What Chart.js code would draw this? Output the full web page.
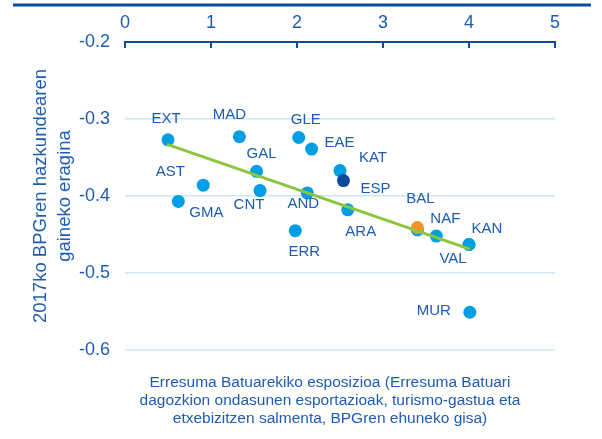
<!DOCTYPE html>
<html><head><meta charset="utf-8">
<script src="https://cdn.jsdelivr.net/npm/chart.js@4/dist/chart.umd.min.js"></script>
<style>html,body{margin:0;padding:0;background:#fff}</style>
</head><body>
<canvas id="c" width="602" height="439"></canvas>
<script>
// ---- data ----
const regionCodes    = ['EXT','MAD','GLE','EAE','GAL','KAT','AST','CNT','AND','GMA','ARA','ERR','BAL','NAF','KAN','VAL','MUR'];
const regionExposure = [0.50, 1.33, 2.02, 2.17, 1.53, 2.50, 0.91, 1.57, 2.12, 0.62, 2.59, 1.98, 3.40, 3.62, 4.00, 4.00, 4.01];
const regionImpact   = [-0.327,-0.323,-0.324,-0.339,-0.368,-0.367,-0.386,-0.393,-0.396,-0.407,-0.418,-0.445,-0.444,-0.452,-0.463,-0.463,-0.551];
const spainCodes     = ['ESP'];
const spainExposure  = [2.54];
const spainImpact    = [-0.380];
const highlightExposure = [3.40];
const highlightImpact   = [-0.441];
const trendExposure  = [0.49, 4.01];
const trendImpact    = [-0.333, -0.469];
const xTickValues = [0, 1, 2, 3, 4, 5];
const yTickValues = [-0.2, -0.3, -0.4, -0.5, -0.6];
const yTitleLines = ['2017ko BPGren hazkundearen', 'gaineko eragina'];
const xTitleLines = ['Erresuma Batuarekiko esposizioa (Erresuma Batuari',
                     'dagozkion ondasunen esportazioak, turismo-gastua eta',
                     'etxebizitzen salmenta, BPGren ehuneko gisa)'];

// ---- styles ----
const TEXT = '#1E5CB3', AXIS = '#0D4DA1', GRID = '#CBE7F8';
const LIGHT = '#009FE3', DARK = '#0B4A9C', ORANGE = '#F39325', GREEN = '#8CC63F';
const FONT = "'Liberation Sans', Arial, sans-serif";
const labelOffsets = {
  EXT:[-2,-21], MAD:[-10,-22], GLE:[7,-18], EAE:[28,-6], GAL:[5,-18], KAT:[33,-13],
  ESP:[32,8], AST:[-33,-13], CNT:[-11,14], AND:[-4,11], GMA:[28,11], ARA:[13,22],
  ERR:[9,21], BAL:[3,-31], NAF:[9,-17], KAN:[18,-16], VAL:[-16,14], MUR:[-36,-1]
};

const toPts = (xs, ys) => xs.map((x, i) => ({x, y: ys[i]}));

const decor = {
  id: 'decor',
  beforeDraw(chart) {
    const c = chart.ctx;
    c.save();
    c.strokeStyle = AXIS; c.lineWidth = 3;
    c.beginPath(); c.moveTo(13, 5); c.lineTo(591, 5); c.stroke();
    c.restore();
  },
  afterDatasetsDraw(chart) {
    const c = chart.ctx;
    c.save();
    c.font = '15px ' + FONT; c.fillStyle = TEXT;
    c.textAlign = 'center'; c.textBaseline = 'middle';
    chart.data.datasets.forEach((ds, di) => {
      if (!ds.codes) return;
      const meta = chart.getDatasetMeta(di);
      meta.data.forEach((el, i) => {
        const code = ds.codes[i]; const off = labelOffsets[code] || [0, 0];
        c.fillText(code, el.x + off[0], el.y + off[1]);
      });
    });
    c.restore();
  },
  afterDraw(chart) {
    const c = chart.ctx, xs = chart.scales.x, a = chart.chartArea;
    c.save();
    c.strokeStyle = AXIS; c.lineWidth = 2;
    xs.ticks.forEach(t => {
      const px = Math.round(xs.getPixelForValue(t.value));
      c.beginPath(); c.moveTo(px, a.top); c.lineTo(px, a.top + 6); c.stroke();
    });
    c.font = '15.5px ' + FONT; c.fillStyle = TEXT;
    c.textAlign = 'center'; c.textBaseline = 'middle';
    const cx = (a.left + a.right) / 2 - 10;
    xTitleLines.forEach((ln, i) => c.fillText(ln, cx, a.bottom + 33 + i * 18));
    c.restore();
  }
};

new Chart(document.getElementById('c'), {
  type: 'scatter',
  data: {
    datasets: [
      { label: 'trend', type: 'line', data: toPts(trendExposure, trendImpact), borderColor: GREEN,
        borderWidth: 3, pointRadius: 0, fill: false, order: 1 },
      { label: 'highlight', data: toPts(highlightExposure, highlightImpact), backgroundColor: ORANGE,
        borderWidth: 0, pointRadius: 6.5, order: 2 },
      { label: 'ESP', codes: spainCodes, data: toPts(spainExposure, spainImpact), backgroundColor: DARK,
        borderWidth: 0, pointRadius: 6.5, order: 3 },
      { label: 'regions', codes: regionCodes, data: toPts(regionExposure, regionImpact), backgroundColor: LIGHT,
        borderWidth: 0, pointRadius: 6.5, order: 4 }
    ]
  },
  options: {
    responsive: false, animation: false, devicePixelRatio: 1,
    layout: { padding: { left: 0, right: 47, top: 0, bottom: 89 } },
    plugins: { legend: { display: false }, tooltip: { enabled: false } },
    scales: {
      x: {
        type: 'linear', position: 'top', min: 0, max: 5,
        afterBuildTicks: s => { s.ticks = xTickValues.map(v => ({value: v})); },
        afterFit: s => { s.height = 42; },
        grid: { display: true, drawOnChartArea: false, drawTicks: false },
        border: { display: true, color: AXIS, width: 2 },
        ticks: { color: TEXT, font: { size: 18, family: FONT }, padding: 8 }
      },
      y: {
        type: 'linear', min: -0.6, max: -0.2,
        afterBuildTicks: s => { s.ticks = yTickValues.map(v => ({value: v})); },
        afterFit: s => { s.width = 125; },
        grid: { color: c => (c.tick && Math.abs(c.tick.value + 0.2) < 1e-9) ? 'rgba(0,0,0,0)' : GRID,
                lineWidth: 1.5, drawTicks: false },
        border: { display: false },
        ticks: { color: TEXT, font: { size: 18, family: FONT }, padding: 15,
                 callback: v => Number(v).toFixed(1) },
        title: { display: true, text: yTitleLines, color: TEXT,
                 font: { size: 18.5, family: FONT, lineHeight: 24 / 18.5 }, padding: { top: 29, bottom: 0 } }
      }
    }
  },
  plugins: [decor]
});
</script>
</body></html>
